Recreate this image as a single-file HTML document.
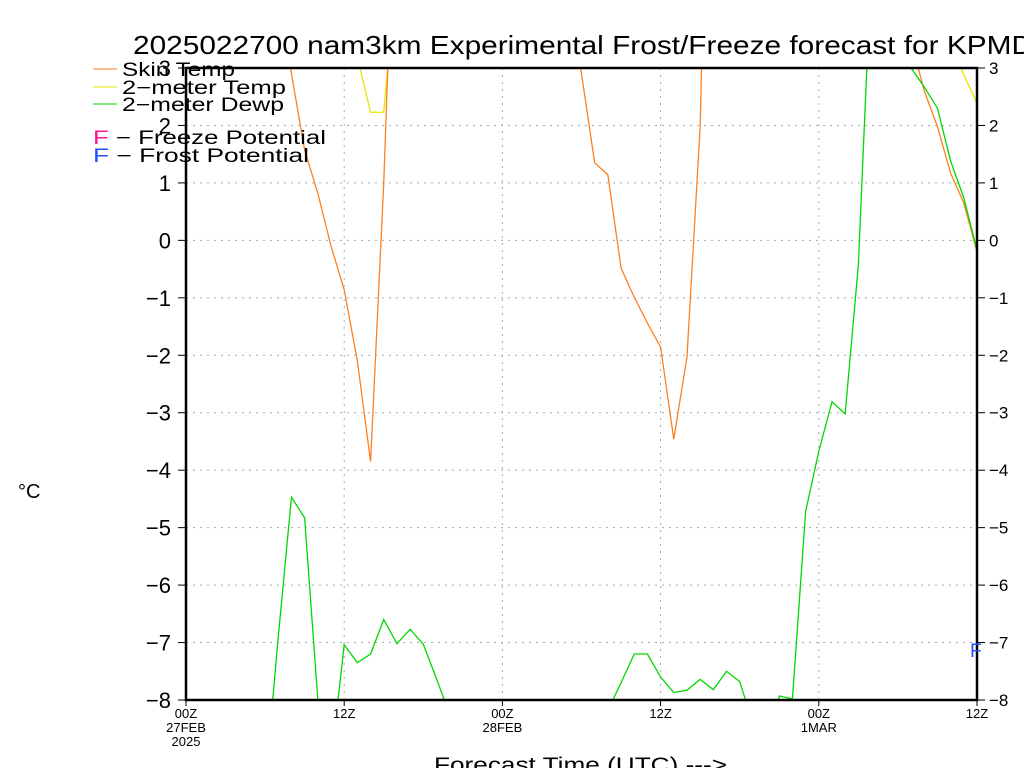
<!DOCTYPE html>
<html><head><meta charset="utf-8"><style>
body{margin:0;background:#fff;width:1024px;height:768px;overflow:hidden}
svg text{font-family:"Liberation Sans","DejaVu Sans",sans-serif}
</style></head><body>
<svg id="chart" width="1024" height="768" viewBox="0 0 1024 768" xmlns="http://www.w3.org/2000/svg">
<defs><clipPath id="plotclip"><rect x="186" y="68" width="791" height="632"/></clipPath></defs>
<text x="133" y="54" font-size="26" fill="#000" textLength="900" lengthAdjust="spacingAndGlyphs">2025022700 nam3km Experimental Frost/Freeze forecast for KPMD</text>
<g id="grid"></g>
<g id="series" clip-path="url(#plotclip)"></g>
<rect x="186" y="68" width="791" height="632" fill="none" stroke="#000" stroke-width="2.5"/>
<g id="axes"></g>
<g font-size="19">
<line x1="93" y1="69" x2="117" y2="69" stroke="#ff7f1f"/>
<text x="122" y="76" textLength="113" lengthAdjust="spacingAndGlyphs">Skin Temp</text>
<line x1="93" y1="87" x2="117" y2="87" stroke="#e6e600"/>
<text x="122" y="94" textLength="164" lengthAdjust="spacingAndGlyphs">2−meter Temp</text>
<line x1="93" y1="104" x2="117" y2="104" stroke="#00d800"/>
<text x="122" y="111" textLength="162" lengthAdjust="spacingAndGlyphs">2−meter Dewp</text>
<text x="93" y="144" textLength="233" lengthAdjust="spacingAndGlyphs"><tspan fill="#ff1493">F</tspan> − Freeze Potential</text>
<text x="93" y="162" textLength="216" lengthAdjust="spacingAndGlyphs"><tspan fill="#2050ff">F</tspan> − Frost Potential</text>
</g>
<text x="970" y="657" font-size="19" fill="#2050ff">F</text>
<text x="18" y="498" font-size="20">°C</text>
<text x="434" y="772" font-size="21" textLength="293" lengthAdjust="spacingAndGlyphs">Forecast Time (UTC) ---&gt;</text>
</svg>
<script>
const hours = [];
for (let i = 0; i <= 60; i++) hours.push(i);
const skinTemp = [4.5,4.5,4.5,4.5,4.5,4.5,4.5,4.5,2.9,1.57,0.82,-0.1,-0.86,-2.1,-3.85,1.0,7.5,10,10,10,10,10,10,10,10,10,10,10,10,4.5,2.9,1.35,1.14,-0.48,-0.99,-1.44,-1.86,-3.46,-2.03,1.97,12,10,10,10,10,10,10,10,10,10,10,10,10,10,10,3.48,2.6,1.98,1.17,0.65,-0.2];
const airTemp = [10,10,10,10,10,10,10,10,10,10,10,10,10,3.19,2.23,2.23,4.8,10,10,10,10,10,10,10,10,10,10,10,10,10,10,10,10,10,10,10,10,10,10,10,10,10,10,10,10,10,10,10,10,10,10,10,10,10,10,10,10,10,3.5,2.88,2.39];
const dewPoint = [-10,-10,-10,-10,-10,-10,-9.5,-6.9,-4.47,-4.83,-8,-9.08,-7.04,-7.35,-7.2,-6.6,-7.02,-6.77,-7.03,-7.63,-8.25,-10,-10,-10,-10,-10,-10,-10,-10,-10,-10,-10,-8.18,-7.7,-7.2,-7.2,-7.6,-7.87,-7.83,-7.64,-7.82,-7.5,-7.68,-8.4,-9,-7.93,-7.98,-4.72,-3.67,-2.81,-3.02,-0.43,4.9,5,5,3.0,2.67,2.3,1.38,0.74,-0.17];
const yTicks = [3,2,1,0,-1,-2,-3,-4,-5,-6,-7,-8];
const xTickHours = [0,12,24,36,48,60];
const xTickLabels = [["00Z","27FEB","2025"],["12Z"],["00Z","28FEB"],["12Z"],["00Z","1MAR"],["12Z"]];

const X0=186,X1=977,Y0=68,Y1=700,HMAX=60,VMIN=-8,VMAX=3;
const xs = h => X0 + (X1-X0)*h/HMAX;
const ys = v => Y0 + (Y1-Y0)*(VMAX-v)/(VMAX-VMIN);
const NS="http://www.w3.org/2000/svg";
function mk(tag, parent, attrs){const e=document.createElementNS(NS,tag);for(const k in attrs)e.setAttribute(k,attrs[k]);parent.appendChild(e);return e;}
const grid=document.getElementById('grid'),axes=document.getElementById('axes'),series=document.getElementById('series');
yTicks.forEach(v=>{
  const y=ys(v);
  const g=mk('line',grid,{x1:X0,x2:X1,y1:y,y2:y,stroke:'#aaa','stroke-dasharray':'2 5'});
  
  
  const t1=mk('line',axes,{x1:X0-8,x2:X0,y1:y,y2:y,stroke:'#000'});
  
  
  const t2=mk('line',axes,{x1:X1,x2:X1+8,y1:y,y2:y,stroke:'#000'});
  
  
  const lab=(v<0?'−':'')+Math.abs(v);
  const l1=mk('text',axes,{x:171,y:y+8,'font-size':22,'text-anchor':'end'});l1.textContent=lab;
  
  
  const l2=mk('text',axes,{x:989,y:y+6,'font-size':17});l2.textContent=lab;
  
  
});
xTickHours.forEach((h,i)=>{
  const x=xs(h);
  const g=mk('line',grid,{x1:x,x2:x,y1:Y0,y2:Y1,stroke:'#aaa','stroke-dasharray':'2 5'});
  
  
  const tk=mk('line',axes,{x1:x,x2:x,y1:Y1,y2:Y1+6,stroke:'#000'});
  
  
  xTickLabels[i].forEach((s,j)=>{
    const t=mk('text',axes,{x:x,y:718+j*14,'font-size':13,'text-anchor':'middle'});t.textContent=s;
    
    
  });
});
function drawLine(vals,color,name){
  const p=mk('polyline',series,{points:vals.map((v,i)=>xs(hours[i])+','+ys(v)).join(' '),fill:'none',stroke:color,'stroke-width':1.3});
  
  
}
drawLine(airTemp,'#e6e600','temp-line');
drawLine(skinTemp,'#ff7f1f','skin-temp-line');
drawLine(dewPoint,'#00d800','dewpoint-line');
</script>
</body></html>
